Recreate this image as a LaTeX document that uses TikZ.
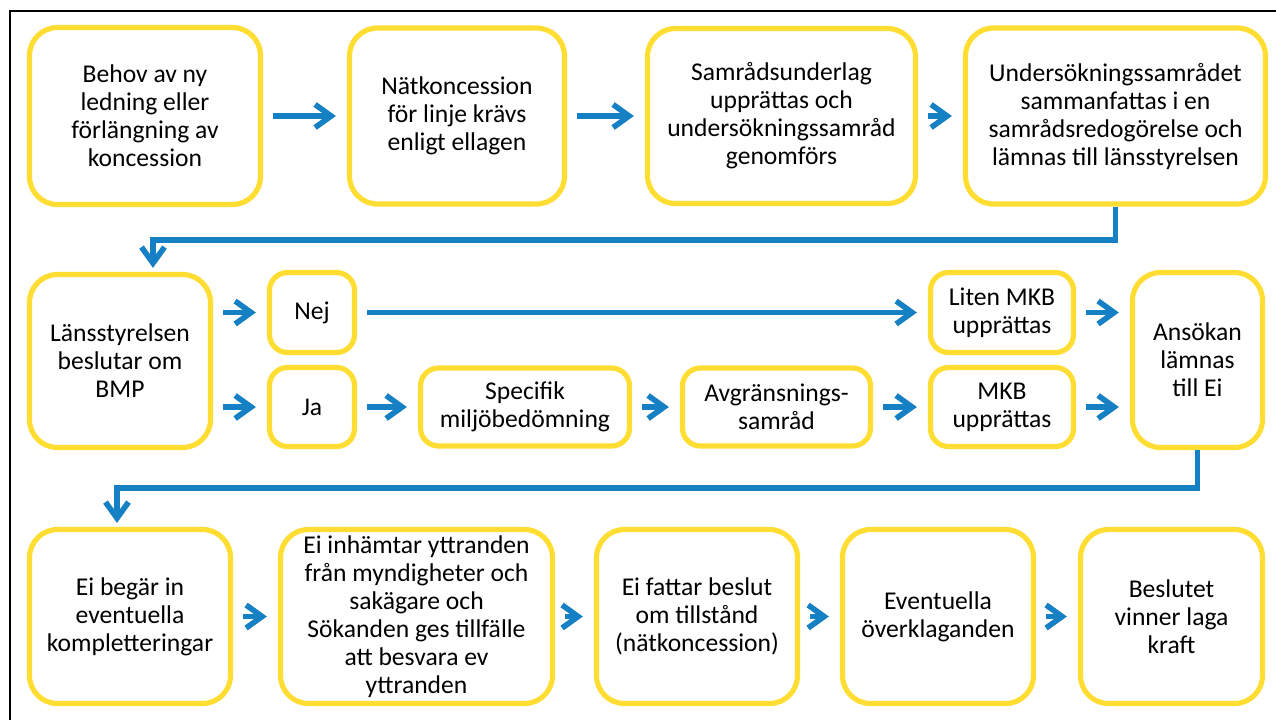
\documentclass[tikz,border=0pt]{standalone}
\usepackage{fontspec}
\setmainfont{Carlito}
\usetikzlibrary{arrows.meta}
\definecolor{cyellow}{RGB}{255,221,51}
\definecolor{cblue}{RGB}{22,128,196}

\begin{document}
\begin{tikzpicture}[x=0.5pt, y=-0.5pt,
    stepbox/.style={rectangle, rounded corners=14pt, draw=cyellow, line width=2.6pt, align=center, inner sep=0pt, font=\fontsize{12.8}{14}\selectfont},
    smallbox/.style={stepbox, rounded corners=9pt},
    boxsize/.style 2 args={minimum width=#1pt, minimum height=#2pt},
    flow/.style={-{Straight Barb[length=8pt,width=11.5pt]}, line width=2.8pt, cblue, shorten <=5pt, shorten >=5.5pt}]
    \useasboundingbox (0,0) rectangle (1276,720);
    \draw[line width=1pt] (1276,11) -- (10,11) -- (10,720);

    % first row
    \node[stepbox, boxsize={115.5}{88.5}] (need) at (145,116) {Behov av ny\\ledning eller\\förlängning av\\koncession};
    \node[stepbox, boxsize={107.5}{88}] (konc) at (457,116) {Nätkoncession\\för linje krävs\\enligt ellagen};
    \node[stepbox, boxsize={134}{87.5}] (samrad) at (781.5,116) {Samrådsunderlag\\upprättas och\\undersökningssamråd\\genomförs};
    \node[stepbox, boxsize={150}{88}] (redog) at (1115.5,116) {Undersökningssamrådet\\sammanfattas i en\\samrådsredogörelse och\\lämnas till länsstyrelsen};

    % second row
    \node[stepbox, boxsize={90.5}{86.5}] (lst) at (120,361) {Länsstyrelsen\\beslutar om\\BMP};
    \node[smallbox, boxsize={42.5}{40}] (nej) at (312,312.5) {Nej};
    \node[smallbox, boxsize={42.5}{39.5}] (ja) at (312,407) {Ja};
    \node[smallbox, boxsize={104.5}{39}] (spec) at (525,407) {Specifik\\miljöbedömning};
    \node[smallbox, boxsize={94}{39}] (avgr) at (776.5,407) {Avgränsnings-\\samråd};
    \node[smallbox, boxsize={71.5}{40}] (liten) at (1002,312.5) {Liten MKB\\upprättas};
    \node[smallbox, boxsize={71.5}{39.5}] (mkb) at (1002,407) {MKB\\upprättas};
    \node[stepbox, boxsize={65}{87.5}] (ansok) at (1197.5,360) {Ansökan\\lämnas\\till Ei};

    % third row
    \node[stepbox, boxsize={100.5}{87}] (kompl) at (130,616.5) {Ei begär in\\eventuella\\kompletteringar};
    \node[stepbox, boxsize={136}{87}] (yttr) at (416.5,616.5) {Ei inhämtar yttranden\\från myndigheter och\\sakägare och\\Sökanden ges tillfälle\\att besvara ev\\yttranden};
    \node[stepbox, boxsize={100.5}{87}] (beslut) at (697,616.5) {Ei fattar beslut\\om tillstånd\\(nätkoncession)};
    \node[stepbox, boxsize={95.5}{87}] (overkl) at (938,616.5) {Eventuella\\överklaganden};
    \node[stepbox, boxsize={91}{87}] (kraft) at (1171.5,616.5) {Beslutet\\vinner laga\\kraft};

    \coordinate (turn1) at (153,240);
    \coordinate (turn2) at (117,488);

    \draw[flow] (need) -- (konc);
    \draw[flow] (konc) -- (samrad);
    \draw[flow] (samrad) -- (redog);
    \draw[flow, shorten <=0pt, shorten >=2pt] (redog.south) |- (turn1) -- (turn1 |- lst.north);

    \draw[flow] (lst.east |- nej) -- (nej);
    \draw[flow] (lst.east |- ja) -- (ja);
    \draw[flow] (nej) -- (liten);
    \draw[flow] (ja) -- (spec);
    \draw[flow] (spec) -- (avgr);
    \draw[flow] (avgr) -- (mkb);
    \draw[flow] (liten) -- (liten -| ansok.west);
    \draw[flow] (mkb) -- (mkb -| ansok.west);
    \draw[flow, shorten <=0pt, shorten >=2pt] (ansok.south) |- (turn2) -- (turn2 |- kompl.north);

    \draw[flow] (kompl) -- (yttr);
    \draw[flow] (yttr) -- (beslut);
    \draw[flow] (beslut) -- (overkl);
    \draw[flow] (overkl) -- (kraft);
\end{tikzpicture}
\end{document}
